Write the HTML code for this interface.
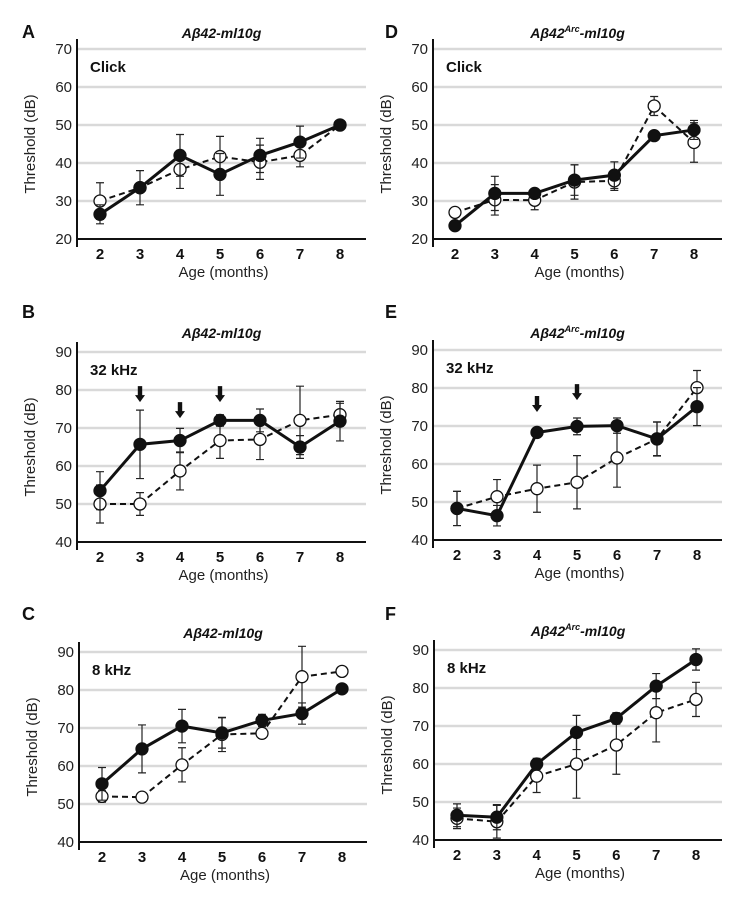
<!DOCTYPE html>
<html><head><meta charset="utf-8"><style>
html,body{margin:0;padding:0;background:#fff;}
svg{display:block;font-family:"Liberation Sans",Arial,sans-serif;}
</style></head><body>
<svg id="fig" width="750" height="908" viewBox="0 0 750 908" xmlns="http://www.w3.org/2000/svg"></svg>
<script>
const months = [2,3,4,5,6,7,8];
const aFilled = [26.5,33.5,42,37,42,45.5,50];
const aFilledErr = [2.5,1,5.5,5.5,4.5,4.2,0];
const aOpen = [30,33.5,38.3,41.7,40.2,42,50];
const aOpenErr = [4.8,4.5,5,5.3,4.5,3,0];
const dFilled = [23.5,32,32,35.5,36.8,47.2,48.7];
const dFilledErr = [1,4.5,1,4,3.5,0.8,2.5];
const dOpen = [27,30.3,30.2,35,35.3,55,45.4];
const dOpenErr = [1,4,2.5,4.5,2.5,2.5,5.2];
const bFilled = [53.5,65.7,66.7,72,72,65,71.8];
const bFilledErr = [5,9,3.2,1.5,3,3,5.2];
const bOpen = [50,50,58.7,66.7,67,72,73.5];
const bOpenErr = [5,3,5,4.7,5.3,9,3];
const eFilled = [48.3,46.4,68.3,69.9,70.1,66.6,75.1];
const eFilledErr = [4.5,2.7,0.5,2.2,2,4.5,5];
const eOpen = [48.3,51.4,53.5,55.2,61.6,66.6,80.1];
const eOpenErr = [4.5,4.5,6.2,7,7.7,4.4,4.5];
const cFilled = [55.3,64.5,70.5,68.7,72,73.8,80.3];
const cFilledErr = [4.3,6.3,4.4,4,1.6,2.8,0];
const cOpen = [52,51.8,60.3,68.3,68.6,83.5,84.9];
const cOpenErr = [1.5,1.2,4.5,4.5,1.3,8,0];
const fFilled = [46.5,46,60,68.3,72,80.5,87.5];
const fFilledErr = [3,3.3,1.5,4.5,1.5,3.3,2.8];
const fOpen = [45.7,44.8,56.8,60,65,73.5,77];
const fOpenErr = [2.7,4.3,4.3,9,7.7,7.7,4.5];
const clickTicks = [20,30,40,50,60,70];
const khzTicks = [40,50,60,70,80,90];
const bArrowMonths = [3,4,5];
const bArrowTips = [76.8,72.6,76.8];
const eArrowMonths = [4,5];
const eArrowTips = [73.7,76.8];

const NS = "http://www.w3.org/2000/svg";
const svg = document.getElementById('fig');
function mk(tag, attrs, parent, text){
  const e = document.createElementNS(NS, tag);
  for (const k in attrs) e.setAttribute(k, attrs[k]);
  if (text !== undefined) e.textContent = text;
  parent.appendChild(e);
  return e;
}
const panels = [
  {id:'a',letter:'A',arc:false,stim:'Click',ax:77,gx2:366,x2:100,x8:340,yTop:49,yBot:239,ticks:clickTicks,lx:22,ly:38,ty:38,f:aFilled,fe:aFilledErr,o:aOpen,oe:aOpenErr,arrM:[],arrT:[]},
  {id:'d',letter:'D',arc:true,stim:'Click',ax:433,gx2:722,x2:455,x8:694,yTop:49,yBot:239,ticks:clickTicks,lx:385,ly:38,ty:38,f:dFilled,fe:dFilledErr,o:dOpen,oe:dOpenErr,arrM:[],arrT:[]},
  {id:'b',letter:'B',arc:false,stim:'32 kHz',ax:77,gx2:366,x2:100,x8:340,yTop:352,yBot:542,ticks:khzTicks,lx:22,ly:318,ty:338,f:bFilled,fe:bFilledErr,o:bOpen,oe:bOpenErr,arrM:bArrowMonths,arrT:bArrowTips},
  {id:'e',letter:'E',arc:true,stim:'32 kHz',ax:433,gx2:722,x2:457,x8:697,yTop:350,yBot:540,ticks:khzTicks,lx:385,ly:318,ty:338,f:eFilled,fe:eFilledErr,o:eOpen,oe:eOpenErr,arrM:eArrowMonths,arrT:eArrowTips},
  {id:'c',letter:'C',arc:false,stim:'8 kHz',ax:79,gx2:367,x2:102,x8:342,yTop:652,yBot:842,ticks:khzTicks,lx:22,ly:620,ty:638,f:cFilled,fe:cFilledErr,o:cOpen,oe:cOpenErr,arrM:[],arrT:[]},
  {id:'f',letter:'F',arc:true,stim:'8 kHz',ax:434,gx2:722,x2:457,x8:696,yTop:650,yBot:840,ticks:khzTicks,lx:385,ly:620,ty:636,f:fFilled,fe:fFilledErr,o:fOpen,oe:fOpenErr,arrM:[],arrT:[]}
];
panels.forEach(p=>{
  const g = mk('g',{},svg);
  
  
  const tmin = p.ticks[0], tmax = p.ticks[p.ticks.length-1];
  const X = m => p.x2 + (m - months[0]) * (p.x8 - p.x2) / (months[months.length-1] - months[0]);
  const Y = v => p.yBot - (v - tmin) * (p.yBot - p.yTop) / (tmax - tmin);
  p.ticks.forEach(t=>{
    if (t !== tmin) {
      const l = mk('line',{x1:p.ax,x2:p.gx2,y1:Y(t),y2:Y(t),stroke:'#d9d9d9','stroke-width':2.5},g);
      
      
    }
    const tl = mk('text',{x:p.ax-5,y:Y(t)+5,'text-anchor':'end','font-size':15,fill:'#222'},g,String(t));
    
    
  });
  const ya = mk('line',{x1:p.ax,x2:p.ax,y1:p.yTop-10,y2:p.yBot+8,stroke:'#111','stroke-width':2},g);
  
  
  const xa = mk('line',{x1:p.ax-1,x2:p.gx2,y1:p.yBot,y2:p.yBot,stroke:'#111','stroke-width':2},g);
  
  
  months.forEach(m=>{
    const t = mk('text',{x:X(m),y:p.yBot+20,'text-anchor':'middle','font-size':15,'font-weight':'bold',fill:'#111'},g,String(m));
    
    
  });
  const xt = mk('text',{x:(p.ax+p.gx2)/2+2,y:p.yBot+38,'text-anchor':'middle','font-size':15,fill:'#222'},g,'Age (months)');
  
  
  const ycx = p.ax-42, ycy = (p.yTop+p.yBot)/2;
  const yt = mk('text',{x:ycx,y:ycy,'text-anchor':'middle','font-size':15,fill:'#222',transform:`rotate(-90 ${ycx} ${ycy})`},g,'Threshold (dB)');
  
  
  const lt = mk('text',{x:p.lx,y:p.ly,'font-size':18,'font-weight':'bold',fill:'#111'},g,p.letter);
  
  
  const tt = mk('text',{x:(p.ax+p.gx2)/2,y:p.ty,'text-anchor':'middle','font-size':14,'font-weight':'bold','font-style':'italic',fill:'#111'},g);
  
  
  mk('tspan',{},tt,'A\u03b242');
  if (p.arc) mk('tspan',{'font-size':9,dy:-6},tt,'Arc');
  mk('tspan',{dy:p.arc?6:0},tt,'-ml10g');
  const st = mk('text',{x:p.ax+13,y:p.yTop+23,'font-size':15,'font-weight':'bold',fill:'#111'},g,p.stim);
  
  
  p.arrM.forEach((m,i)=>{
    const x = X(m), ty = Y(p.arrT[i]);
    const a = mk('path',{d:`M${x-2.2},${ty-16} L${x+2.2},${ty-16} L${x+2.2},${ty-7} L${x+5},${ty-7} L${x},${ty} L${x-5},${ty-7} L${x-2.2},${ty-7} Z`,fill:'#111'},g);
    
    
  });
  function series(vals, errs, filled, name){
    const sg = mk('g',{},g);
    
    
    vals.forEach((v,i)=>{
      if (errs[i] > 0) {
        const x = X(months[i]);
        const e = mk('path',{d:`M${x},${Y(v-errs[i])} L${x},${Y(v+errs[i])} M${x-4},${Y(v-errs[i])} L${x+4},${Y(v-errs[i])} M${x-4},${Y(v+errs[i])} L${x+4},${Y(v+errs[i])}`,stroke:'#222','stroke-width':1.2,fill:'none'},sg);
        
        
      }
    });
    const pts = vals.map((v,i)=>X(months[i])+','+Y(v)).join(' ');
    const pl = mk('polyline',{points:pts,fill:'none',stroke:'#111','stroke-width':filled?3:2,'stroke-dasharray':filled?'none':'6,4'},sg);
    
    
    vals.forEach((v,i)=>{
      const c = mk('circle',{cx:X(months[i]),cy:Y(v),r:6,fill:filled?'#111':'#fff',stroke:'#111','stroke-width':1.3},sg);
      
      
    });
  }
  series(p.o, p.oe, false, 'open-series');
  series(p.f, p.fe, true, 'filled-series');
});
</script>
</body></html>
